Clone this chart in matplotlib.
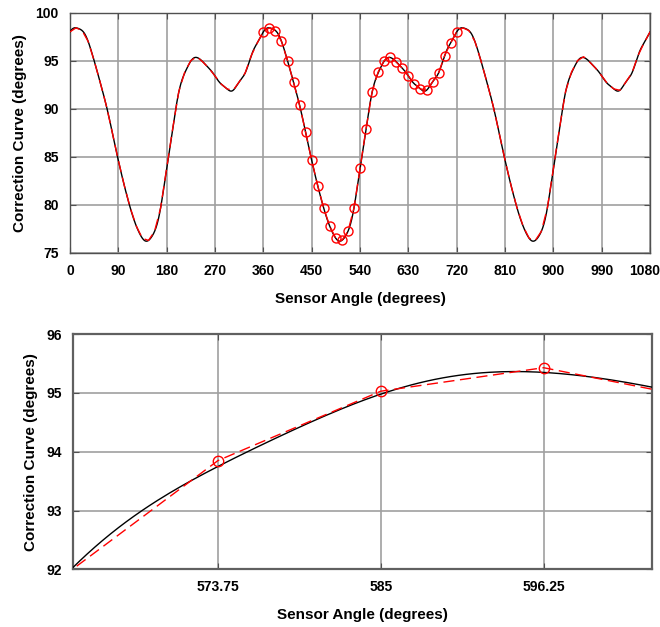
import numpy as np
import matplotlib.pyplot as plt
from matplotlib.transforms import ScaledTranslation

# Datos medidos (un periodo de 360 grados)
angulo = [360, 371.25, 382.5, 393.75, 405, 416.25, 427.5, 438.75, 450, 461.25,
          472.5, 483.75, 495, 506.25, 517.5, 528.75, 540, 551.25, 562.5, 573.75,
          585, 596.25, 607.5, 618.75, 630, 641.25, 652.5, 663.75, 675, 686.25,
          697.5, 708.75, 720]
# puntos rojos (tabla)
correccion = [98.02, 98.44, 98.16, 97.04, 95.03, 92.77, 90.38, 87.56, 84.65, 82.0,
              79.65, 77.77, 76.52, 76.31, 77.25, 79.69, 83.81, 87.95, 91.78, 93.85,
              95.03, 95.43, 94.88, 94.23, 93.43, 92.6, 92.08, 91.94, 92.81, 93.75,
              95.55, 96.87, 98.02]
curva = [98.02, 98.44, 98.16, 97.04, 95.03, 92.77, 90.38, 87.56, 84.65, 82.0,
         79.65, 77.77, 76.52, 76.31, 77.25, 79.69, 83.81, 87.95, 91.72, 93.75,
         94.98, 95.35, 94.9, 94.23, 93.43, 92.6, 92.08, 91.94, 92.81, 93.75,
         95.55, 96.87, 98.02]

top_xticks = [0, 90, 180, 270, 360, 450, 540, 630, 720, 810, 900, 990, 1080]
top_yticks = [75, 80, 85, 90, 95, 100]
zoom_xticks = [573.75, 585, 596.25]
zoom_xlabels = ['573.75', '585', '596.25']
zoom_yticks = [92, 93, 94, 95, 96]

ang = np.array(angulo)
cor = np.array(correccion)

# Datos repetidos en los tres periodos
ang_all = np.concatenate([ang[:-1] - 360, ang[:-1], ang + 360])
cor_all = np.concatenate([cor[:-1], cor[:-1], cor])

# Curva suave periodica (interpolacion trigonometrica de la curva negra)
v = np.array(curva[:-1])
n = len(v)
c = np.fft.rfft(v) / n
xs = np.linspace(0, 1080, 4000)
t = np.deg2rad(xs)
ys = np.full_like(xs, c[0].real)
for k in range(1, n // 2):
    ys += 2 * (c[k] * np.exp(1j * k * t)).real
ys += c[n // 2].real * np.cos(n // 2 * t)

plt.rcParams['font.family'] = ['Liberation Sans', 'DejaVu Sans']
plt.rcParams['font.weight'] = 'bold'

fig = plt.figure(figsize=(6.6, 6.27), dpi=100)
ax1 = fig.add_axes([0.106, 0.5965, 0.879, 0.383])
ax2 = fig.add_axes([0.111, 0.092, 0.877, 0.375])

for ax in (ax1, ax2):
    ax.plot(xs, ys, color='black', lw=1.0, zorder=3)
    ax.plot(ang_all, cor_all, color='red', lw=1.0, ls=(0, (8, 4)), zorder=4)
    ax.grid(True, color='#a0a0a0', lw=1.2)
    ax.set_axisbelow(True)
    ax.tick_params(direction='in', top=True, right=True, labelsize=10, length=4,
                   pad=8, color='#505050')
    for s in ax.spines.values():
        s.set_color('#505050')
        s.set_linewidth(1.0)
    ax.set_xlabel('Sensor Angle (degrees)', fontsize=11, fontweight='bold', labelpad=10)
    ax.set_ylabel('Correction Curve (degrees)', fontsize=11, fontweight='bold', labelpad=6)

ax1.plot(ang, cor, 'o', mfc='none', mec='red', ms=6.5, mew=1.0, zorder=5)
ax1.set_xlim(0, 1080)
ax1.set_ylim(75, 100)
ax1.set_xticks(top_xticks)
ax1.set_yticks(top_yticks)

ax2.plot(ang, cor, 'o', mfc='none', mec='red', ms=7.5, mew=1.0, zorder=5)
ax2.set_xlim(563.75, 603.75)
ax2.set_ylim(92, 96)
ax2.set_xticks(zoom_xticks)
ax2.set_xticklabels(zoom_xlabels)
ax2.set_yticks(zoom_yticks)
for s in ax2.spines.values():
    s.set_linewidth(1.6)
    s.set_color('#606060')

# la ultima etiqueta queda pegada al borde
fig.canvas.draw()
lab = ax1.get_xticklabels()[-1]
lab.set_transform(lab.get_transform() + ScaledTranslation(-5 / 100, 0, fig.dpi_scale_trans))

plt.savefig('out.png', dpi=100)
